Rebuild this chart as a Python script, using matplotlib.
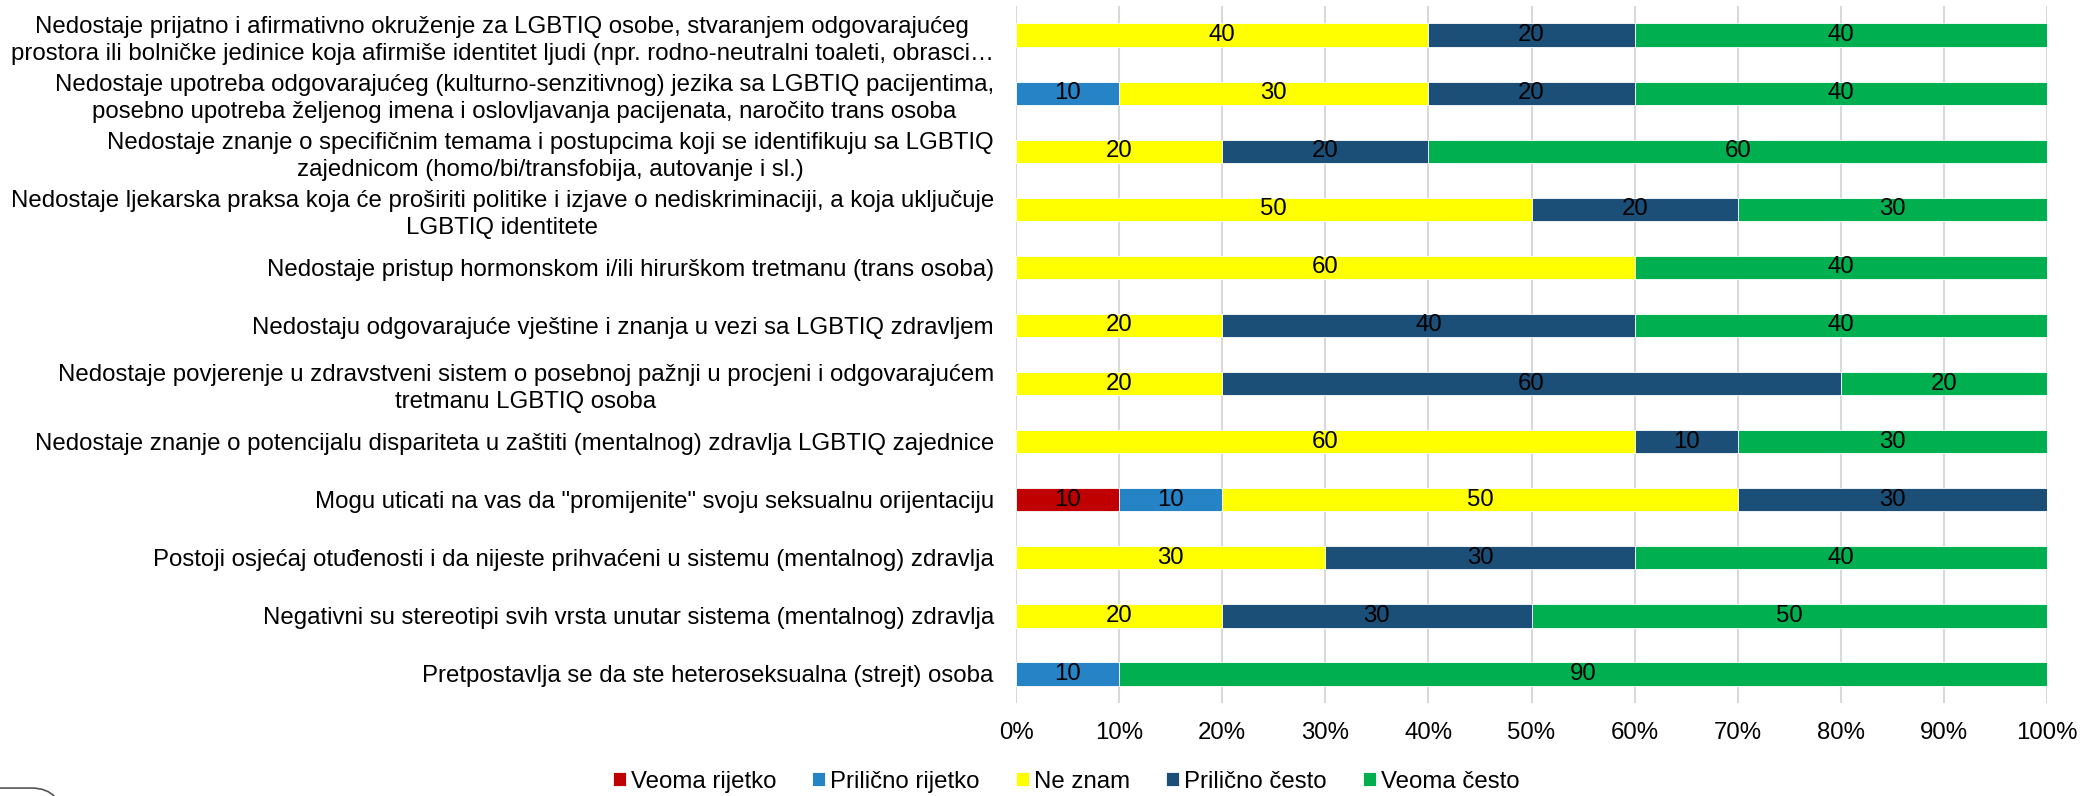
import numpy as np
import matplotlib
matplotlib.use("Agg")
import matplotlib.pyplot as plt
from matplotlib.patches import FancyBboxPatch

plt.rcParams['font.family'] = ['Liberation Sans', 'DejaVu Sans']

categories = [
    "Nedostaje prijatno i afirmativno okruženje za LGBTIQ osobe, stvaranjem odgovarajućeg\n"
    "prostora ili bolničke jedinice koja afirmiše identitet ljudi (npr. rodno-neutralni toaleti, obrasci…",
    "Nedostaje upotreba odgovarajućeg (kulturno-senzitivnog) jezika sa LGBTIQ pacijentima,\n"
    "posebno upotreba željenog imena i oslovljavanja pacijenata, naročito trans osoba",
    "Nedostaje znanje o specifičnim temama i postupcima koji se identifikuju sa LGBTIQ\n"
    "zajednicom (homo/bi/transfobija, autovanje i sl.)",
    "Nedostaje ljekarska praksa koja će proširiti politike i izjave o nediskriminaciji, a koja uključuje\n"
    "LGBTIQ identitete",
    "Nedostaje pristup hormonskom i/ili hirurškom tretmanu (trans osoba)",
    "Nedostaju odgovarajuće vještine i znanja u vezi sa LGBTIQ zdravljem",
    "Nedostaje povjerenje u zdravstveni sistem o posebnoj pažnji u procjeni i odgovarajućem\n"
    "tretmanu LGBTIQ osoba",
    "Nedostaje znanje o potencijalu dispariteta u zaštiti (mentalnog) zdravlja LGBTIQ zajednice",
    'Mogu uticati na vas da "promijenite" svoju seksualnu orijentaciju',
    "Postoji osjećaj otuđenosti i da nijeste prihvaćeni u sistemu (mentalnog) zdravlja",
    "Negativni su stereotipi svih vrsta unutar sistema (mentalnog) zdravlja",
    "Pretpostavlja se da ste heteroseksualna (strejt) osoba",
]

series_names = ["Veoma rijetko", "Prilično rijetko", "Ne znam", "Prilično često", "Veoma često"]
series_colors = ["#C00000", "#2683C6", "#FFFF00", "#1B4F77", "#00B050"]

veoma_rijetko = [0, 0, 0, 0, 0, 0, 0, 0, 10, 0, 0, 0]
prilicno_rijetko = [0, 10, 0, 0, 0, 0, 0, 0, 10, 0, 0, 10]
ne_znam = [40, 30, 20, 50, 60, 20, 20, 60, 50, 30, 20, 0]
prilicno_cesto = [20, 20, 20, 20, 0, 40, 60, 10, 30, 30, 30, 0]
veoma_cesto = [40, 40, 60, 30, 40, 40, 20, 30, 0, 40, 50, 90]

series = [veoma_rijetko, prilicno_rijetko, ne_znam, prilicno_cesto, veoma_cesto]

FS = 17.3

fig = plt.figure(figsize=(20.94, 7.96), dpi=100)
ax = fig.add_axes([0.4852, 0.1168, 0.4924, 0.8756])

y = np.arange(len(categories))
left = np.zeros(len(categories))
for name, vals, col in zip(series_names, series, series_colors):
    vals = np.array(vals, dtype=float)
    frac = vals / 100.0
    ax.barh(y, frac, left=left, height=0.4, color=col, label=name,
            edgecolor="white", linewidth=0.6, zorder=3)
    for yi, l, f, v in zip(y, left, frac, vals):
        if v > 0:
            ax.text(l + f / 2, yi, f"{int(v)}", ha="center", va="center",
                    fontsize=FS, color="black", zorder=4)
    left += frac

ax.set_xlim(0, 1)
ax.set_ylim(len(categories) - 0.5, -0.5)
ax.set_xticks(np.arange(0, 1.01, 0.1))
ax.set_xticklabels([f"{int(round(t * 100))}%" for t in np.arange(0, 1.01, 0.1)], fontsize=FS)
ax.set_yticks(y)
ax.set_yticklabels(categories, fontsize=FS, multialignment="center", linespacing=1.3)
ax.tick_params(axis="both", length=0)
ax.tick_params(axis="y", pad=16)
ax.tick_params(axis="x", pad=14)
ax.grid(axis="x", color="#D9D9D9", linewidth=1.5, zorder=0)
for s in ax.spines.values():
    s.set_visible(False)

fig.legend(loc="center", bbox_to_anchor=(0.509, 0.018), ncol=5, frameon=False,
           fontsize=FS, handlelength=0.55, handleheight=0.55, handletextpad=0.2,
           columnspacing=1.5)

# remnant of a rounded frame in the lower left corner
fig.patches.append(FancyBboxPatch((-0.02, -0.05), 0.05, 0.06,
                                  boxstyle="round,pad=0,rounding_size=0.015",
                                  transform=fig.transFigure, fill=False,
                                  edgecolor="#555555", linewidth=1.2))

fig.savefig("out.png", dpi=100)
